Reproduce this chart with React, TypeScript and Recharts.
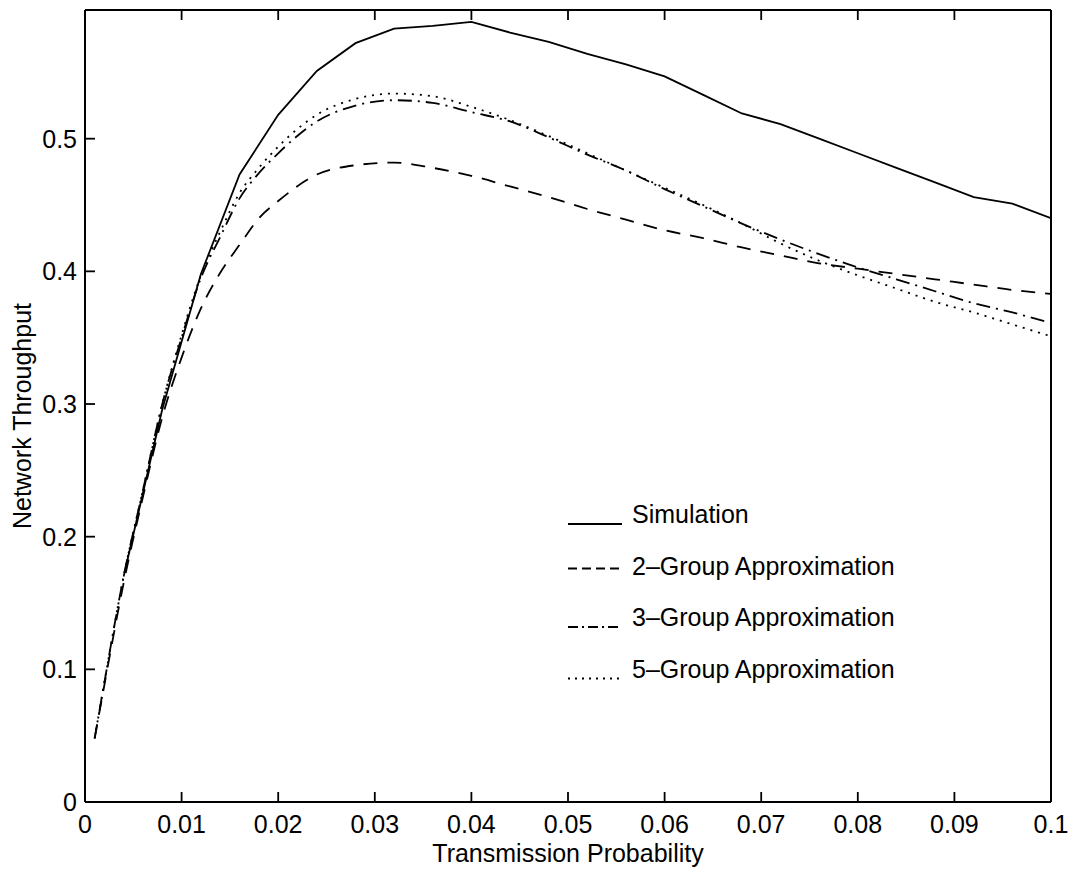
import React from 'react';
import { LineChart, Line, XAxis, YAxis, Legend } from 'recharts';

// transmission probability (x) samples
const probability = [
  0.001, 0.002, 0.004, 0.006, 0.008, 0.01, 0.012, 0.014, 0.016, 0.018, 0.02, 0.024, 0.028, 0.032, 0.036, 0.04,
  0.044, 0.048, 0.052, 0.056, 0.06, 0.064, 0.068, 0.072, 0.076, 0.08, 0.084, 0.088, 0.092, 0.096, 0.1,
];

// simulation only has points every 0.004
const simulation = [
  null, null, 0.17, null, 0.296, null, 0.398, null, 0.473, null, 0.518, 0.551, 0.572, 0.583, 0.585, 0.588,
  0.58, 0.573, 0.564, 0.556, 0.547, 0.533, 0.519, 0.511, 0.5, 0.489, 0.478, 0.467, 0.456, 0.451, 0.44,
];

const twoGroup = [
  0.048, 0.088, 0.165, 0.23, 0.29, 0.335, 0.372, 0.399, 0.42, 0.44, 0.453, 0.473, 0.48, 0.482, 0.478, 0.472,
  0.464, 0.456, 0.447, 0.439, 0.431, 0.425, 0.418, 0.412, 0.406, 0.402, 0.398, 0.394, 0.39, 0.386, 0.383,
];

const threeGroup = [
  0.048, 0.09, 0.17, 0.235, 0.3, 0.35, 0.395, 0.426, 0.455, 0.474, 0.489, 0.513, 0.525, 0.529, 0.527, 0.52,
  0.513, 0.501, 0.488, 0.476, 0.462, 0.449, 0.436, 0.424, 0.413, 0.403, 0.394, 0.385, 0.376, 0.369, 0.361,
];

const fiveGroup = [
  0.048, 0.09, 0.17, 0.235, 0.3, 0.352, 0.397, 0.43, 0.459, 0.478, 0.494, 0.518, 0.53, 0.534, 0.532, 0.524,
  0.514, 0.502, 0.489, 0.476, 0.463, 0.45, 0.436, 0.421, 0.408, 0.397, 0.387, 0.377, 0.369, 0.36, 0.351,
];

const xTicks = [0, 0.01, 0.02, 0.03, 0.04, 0.05, 0.06, 0.07, 0.08, 0.09, 0.1];
const yTicks = [0, 0.1, 0.2, 0.3, 0.4, 0.5];

const seriesNames = ['Simulation', '2\u2013Group Approximation', '3\u2013Group Approximation', '5\u2013Group Approximation'];

const data = probability.map((p, i) => ({
  p,
  sim: simulation[i],
  g2: twoGroup[i],
  g3: threeGroup[i],
  g5: fiveGroup[i],
}));

const FONT = '"Liberation Sans", Arial, Helvetica, sans-serif';
const TICK_LEN = 10;
const GAP = 13;

// matlab ticks point into the plot, so the tick mark is drawn by the tick renderer
function BottomTick({ x, y, payload }: any) {
  const axisY = y - GAP;
  return (
    <g>
      <line x1={x} x2={x} y1={axisY} y2={axisY - TICK_LEN} stroke="#000" strokeWidth={1.8} />
      <text x={x} y={y} dy="0.71em" textAnchor="middle" fontSize={25} fontFamily={FONT} fill="#000">
        {String(payload.value)}
      </text>
    </g>
  );
}

function LeftTick({ x, y, payload }: any) {
  const axisX = x + GAP;
  return (
    <g>
      <line x1={axisX} x2={axisX + TICK_LEN} y1={y} y2={y} stroke="#000" strokeWidth={1.8} />
      <text x={x + 5} y={y} dy="0.355em" textAnchor="end" fontSize={25} fontFamily={FONT} fill="#000">
        {String(payload.value)}
      </text>
    </g>
  );
}

function TopTick({ x, y }: any) {
  return <line x1={x} x2={x} y1={y} y2={y + TICK_LEN} stroke="#000" strokeWidth={1.8} />;
}

function RightTick({ x, y }: any) {
  return <line x1={x - TICK_LEN} x2={x} y1={y} y2={y} stroke="#000" strokeWidth={1.8} />;
}

// old matlab style legend, samples drawn like ____ ---- _._._ .......
function MatlabLegend() {
  const rows = [
    { name: seriesNames[0], off: 1, dash: undefined },
    { name: seriesNames[1], off: -6, dash: '9 5' },
    { name: seriesNames[2], off: 1, dash: '10 4 2 4' },
    { name: seriesNames[3], off: 1, dash: '2 5' },
  ];
  return (
    <svg width={400} height={220} style={{ display: 'block' }}>
      {rows.map((r, i) => {
        const base = 35 + i * 51.5;
        return (
          <g key={r.name}>
            <line x1={8} x2={62} y1={base + r.off} y2={base + r.off} stroke="#000" strokeWidth={1.8} strokeDasharray={r.dash} />
            <text x={72} y={base} fontSize={25} fontFamily={FONT} fill="#000">
              {r.name}
            </text>
          </g>
        );
      })}
    </svg>
  );
}

function YTitle() {
  return (
    <text x={22} y={416} transform="rotate(-90 22 416)" textAnchor="middle" dominantBaseline="central" fontSize={25} fontFamily={FONT} fill="#000">
      Network Throughput
    </text>
  );
}

const axisLine = { stroke: '#000', strokeWidth: 2 };

export default function App() {
  return (
    <div style={{ position: 'absolute', left: 0, top: 0, width: 1078, height: 873, background: '#fff' }}>
      <LineChart width={1078} height={873} data={data} margin={{ top: 9, right: 26, bottom: 0, left: 0 }}>
        <XAxis
          dataKey="p"
          type="number"
          domain={[0, 0.1]}
          ticks={xTicks}
          height={71}
          tickSize={0}
          tickMargin={GAP}
          tick={<BottomTick />}
          tickLine={false}
          axisLine={axisLine}
          allowDataOverflow
          label={{ value: 'Transmission Probability', position: 'insideBottom', offset: 11, fontSize: 25, fill: '#000', fontFamily: FONT }}
        />
        <XAxis
          xAxisId="top"
          orientation="top"
          dataKey="p"
          type="number"
          domain={[0, 0.1]}
          ticks={xTicks}
          height={1}
          tickSize={0}
          tickMargin={0}
          tick={<TopTick />}
          tickLine={false}
          axisLine={axisLine}
        />
        <YAxis
          type="number"
          domain={[0, 0.597]}
          ticks={yTicks}
          width={85}
          tickSize={0}
          tickMargin={GAP}
          tick={<LeftTick />}
          tickLine={false}
          axisLine={axisLine}
          allowDataOverflow
          label={{ content: () => <YTitle /> }}
        />
        <YAxis
          yAxisId="right"
          orientation="right"
          type="number"
          domain={[0, 0.597]}
          ticks={yTicks}
          width={1}
          tickSize={0}
          tickMargin={0}
          tick={<RightTick />}
          tickLine={false}
          axisLine={axisLine}
        />
        <Legend
          layout="horizontal"
          verticalAlign="middle"
          align="center"
          wrapperStyle={{ left: 560, top: 488, width: 400, height: 220 }}
          content={() => <MatlabLegend />}
        />
        <Line dataKey="sim" name={seriesNames[0]} type="linear" stroke="#000" strokeWidth={1.8} dot={false} connectNulls isAnimationActive={false} />
        <Line dataKey="g2" name={seriesNames[1]} type="monotone" stroke="#000" strokeWidth={1.8} strokeDasharray="14 10" dot={false} isAnimationActive={false} />
        <Line dataKey="g3" name={seriesNames[2]} type="monotone" stroke="#000" strokeWidth={1.8} strokeDasharray="14 6 2 6" dot={false} isAnimationActive={false} />
        <Line dataKey="g5" name={seriesNames[3]} type="monotone" stroke="#000" strokeWidth={1.8} strokeDasharray="2 6" dot={false} isAnimationActive={false} />
      </LineChart>
    </div>
  );
}
